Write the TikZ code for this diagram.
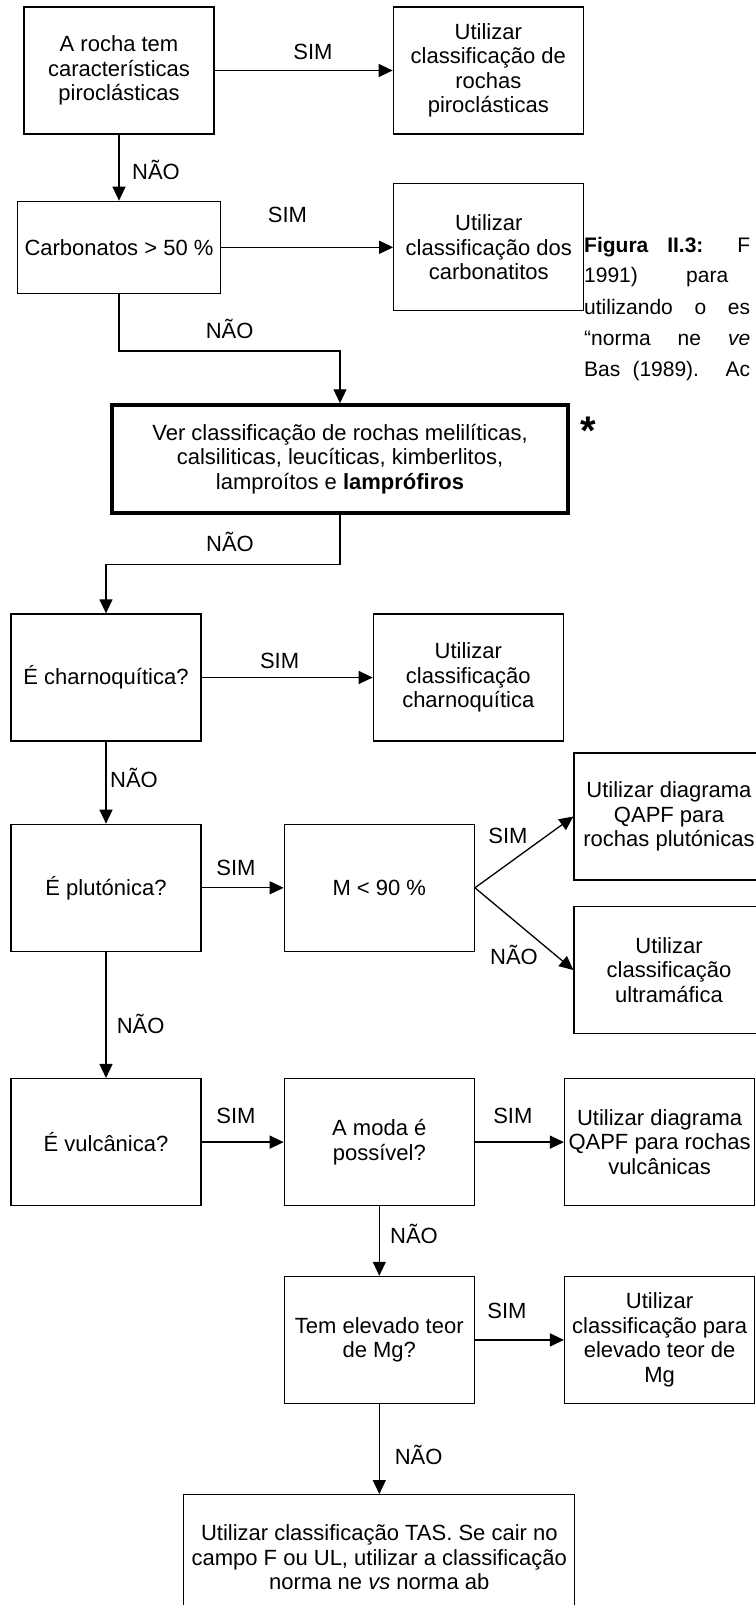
\documentclass[tikz,border=0pt]{standalone}
\usepackage{fontspec}
\setmainfont{Liberation Sans}
\usetikzlibrary{arrows.meta, positioning}

\newcommand{\boxfont}{\fontsize{22}{24.5}\selectfont}
\newcommand{\capfont}{\fontsize{21}{30}\selectfont}

\begin{document}
\begin{tikzpicture}[
    x=1pt, y=-1pt,
    node distance=82pt,
    box/.style={draw, line width=1.3pt, minimum width=190pt, minimum height=127pt, inner sep=0pt, align=center, font=\boxfont},
    lbl/.style={font=\boxfont, inner sep=0pt, anchor=base},
    legenda/.style={font=\capfont, inner sep=0pt, anchor=base west},
    link/.style={draw, line width=1.3pt, -{Triangle[length=14pt, width=13pt]}},
]
    \useasboundingbox (0,0) rectangle (755,1605);

    % Piroclasticas e carbonatitos
    \node[box] (rocha) at (119,70.5) {A rocha tem\\características\\piroclásticas};
    \node[box, right=178pt of rocha] (piro) {Utilizar\\classificação de\\rochas\\piroclásticas};
    \node[box, minimum width=203pt, minimum height=92pt, below=66pt of rocha] (carb) {Carbonatos > 50 \%};
    \node[box, right=172pt of carb] (carbonatitos) {Utilizar\\classificação dos\\carbonatitos};

    \node[box, minimum width=456pt, minimum height=108pt, line width=3.5pt] (ver) at (340,459) {
        Ver classificação de rochas melilíticas,\\calsiliticas, leucíticas, kimberlitos,\\lamproítos e \textbf{lamprófiros}
    };
    \node[font=\fontsize{40}{40}\selectfont\bfseries, inner sep=0pt, anchor=base] (asterisco) at (588,444) {*};

    % Charnoquitica e plutonica
    \node[box] (charno) at (106,677.5) {É charnoquítica?};
    \node[box, right=171pt of charno] (charnoR) {Utilizar\\classificação\\charnoquítica};
    \node[box, below=of charno] (pluton) {É plutónica?};
    \node[box, right=of pluton] (modal) {M < 90 \%};
    \node[box] (qapfp) at (669,816.5) {Utilizar diagrama\\QAPF para\\rochas plutónicas};
    \node[box] (ultra) at (669,970) {Utilizar\\classificação\\ultramáfica};

    % Vulcanica
    \node[box, below=126pt of pluton] (vulc) {É vulcânica?};
    \node[box, right=of vulc] (moda) {A moda é\\possível?};
    \node[box, right=89pt of moda] (qapfv) {Utilizar diagrama\\QAPF para rochas\\vulcânicas};
    \node[box, below=69.5pt of moda] (mg) {Tem elevado teor\\de Mg?};
    \node[box, right=89pt of mg] (mgR) {Utilizar\\classificação para\\elevado teor de\\Mg};
    \node[box, minimum width=391pt, minimum height=125pt, below=90pt of mg] (tas) {
        Utilizar classificação TAS. Se cair no\\campo F ou UL, utilizar a classificação\\norma ne \textit{vs} norma ab
    };

    % Legenda (na margem)
    \node[legenda] (leg1) at (584,252) {\makebox[166pt][s]{\textbf{Figura II.3:} F}};
    \node[legenda] (leg2) at (584,283) {\makebox[144pt][s]{1991) para}};
    \node[legenda] (leg3) at (584,314) {\makebox[166pt][s]{utilizando o es}};
    \node[legenda] (leg4) at (584,345) {\makebox[166pt][s]{“norma ne \textit{ve}}};
    \node[legenda] (leg5) at (584,376) {\makebox[166pt][s]{Bas (1989). Ac}};

    % Ligacoes
    \draw[link] (rocha) -- (piro);
    \draw[link] (rocha) -- (carb);
    \draw[link] (carb) -- (carbonatitos);
    \draw[link] (carb.south) -- ++(0,57) -| (ver.north);
    \draw[link] (ver.south) -- ++(0,49.5) -| (charno.north);
    \draw[link] (charno) -- (charnoR);
    \draw[link] (charno) -- (pluton);
    \draw[link] (pluton) -- (modal);
    \draw[link] (modal.east) -- (qapfp.west);
    \draw[link] (modal.east) -- (ultra.west);
    \draw[link] (pluton) -- (vulc);
    \draw[link] (vulc) -- (moda);
    \draw[link] (moda) -- (qapfv);
    \draw[link] (moda) -- (mg);
    \draw[link] (mg) -- (mgR);
    \draw[link] (mg) -- (tas);

    % Rotulos
    \node[lbl] (simA) at (313,59.7) {SIM};
    \node[lbl] (naoA) at (156,179.7) {NÃO};
    \node[lbl] (simB) at (287.5,223) {SIM};
    \node[lbl] (naoB) at (229.6,338) {NÃO};
    \node[lbl] (naoC) at (230,551.3) {NÃO};
    \node[lbl] (simC) at (279.6,668) {SIM};
    \node[lbl] (naoD) at (134,787) {NÃO};
    \node[lbl] (simD) at (236,875.3) {SIM};
    \node[lbl] (simE) at (508,843) {SIM};
    \node[lbl] (naoE) at (514,964) {NÃO};
    \node[lbl] (naoF) at (140.6,1033) {NÃO};
    \node[lbl] (simF) at (236,1123) {SIM};
    \node[lbl] (simG) at (512.8,1123) {SIM};
    \node[lbl] (naoG) at (414,1243) {NÃO};
    \node[lbl] (simH) at (507,1318) {SIM};
    \node[lbl] (naoH) at (418.6,1464.7) {NÃO};
\end{tikzpicture}
\end{document}
